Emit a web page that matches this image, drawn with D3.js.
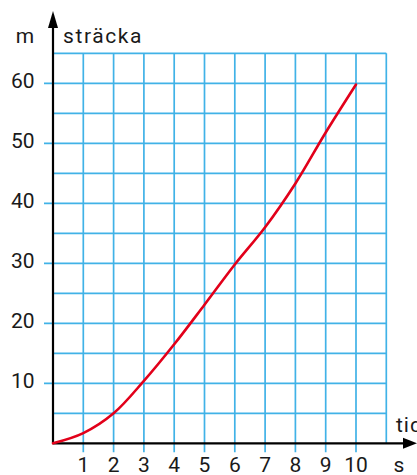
<!DOCTYPE html>
<html>
<head>
<meta charset="utf-8">
<script src="https://cdn.jsdelivr.net/npm/d3@7"></script>
<style>
  html, body { margin: 0; padding: 0; background: #fff; }
  svg { display: block; }
  text { font-family: Roboto, "DejaVu Sans", sans-serif; fill: #1a1a1a; }
</style>
</head>
<body>
<svg id="chart" width="417" height="475"></svg>
<script>
// Data
const times = [0, 1, 2, 3, 4, 5, 6, 7, 8, 9, 10];
const distances = [0, 1.7, 5, 10.4, 16.5, 23.1, 29.8, 36.0, 43.3, 51.8, 59.8];
const xTickValues = [1, 2, 3, 4, 5, 6, 7, 8, 9, 10];
const yTickValues = [10, 20, 30, 40, 50, 60];
const yGridValues = [5, 10, 15, 20, 25, 30, 35, 40, 45, 50, 55, 60, 65];
const xGridValues = [1, 2, 3, 4, 5, 6, 7, 8, 9, 10, 11];
const yLabelUnit = "m";
const yLabelName = "sträcka";
const xLabelUnit = "s";
const xLabelName = "tid";

const svg = d3.select("#chart");
const x = d3.scaleLinear().domain([0, 11]).range([53, 386.3]);
const y = d3.scaleLinear().domain([0, 65]).range([443.3, 53.3]);

const gridColor = "#40b2e7";
const fontSize = 21;

// Horizontal grid lines
svg.append("g").selectAll("line").data(yGridValues).join("line")
  .attr("x1", d => d % 10 === 0 ? x(0) - 9 : x(0))
  .attr("x2", x(11))
  .attr("y1", d => y(d)).attr("y2", d => y(d))
  .attr("stroke", gridColor).attr("stroke-width", 1.7);

// Vertical grid lines
svg.append("g").selectAll("line").data(xGridValues).join("line")
  .attr("x1", d => x(d)).attr("x2", d => x(d))
  .attr("y1", y(65))
  .attr("y2", d => d <= 10 ? y(0) + 9 : y(0))
  .attr("stroke", gridColor).attr("stroke-width", 1.7);

// Y tick labels
svg.append("g").selectAll("text").data(yTickValues).join("text")
  .attr("x", 34.5).attr("y", d => y(d) + 4.5)
  .attr("text-anchor", "end")
  .attr("font-size", fontSize)
  .text(d => d);

// X tick labels
svg.append("g").selectAll("text").data(xTickValues).join("text")
  .attr("x", d => x(d)).attr("y", 471.5)
  .attr("text-anchor", "middle")
  .attr("font-size", fontSize)
  .text(d => d);

// Axes
svg.append("line")
  .attr("x1", x(0)).attr("x2", 405)
  .attr("y1", y(0)).attr("y2", y(0))
  .attr("stroke", "#000").attr("stroke-width", 2.2);
svg.append("path")
  .attr("d", `M${417},${y(0)} L${403},${y(0) - 5.5} L${403},${y(0) + 5.5} Z`)
  .attr("fill", "#000");
svg.append("line")
  .attr("x1", x(0)).attr("x2", x(0))
  .attr("y1", y(0)).attr("y2", 26)
  .attr("stroke", "#000").attr("stroke-width", 2.2);
svg.append("path")
  .attr("d", `M${x(0)},${11} L${x(0) - 5},${28} L${x(0) + 5},${28} Z`)
  .attr("fill", "#000");

// Axis labels
svg.append("text").attr("x", 25).attr("y", 43).attr("text-anchor", "middle")
  .attr("font-size", fontSize).text(yLabelUnit);
svg.append("text").attr("x", 63).attr("y", 43)
  .attr("font-size", fontSize).attr("letter-spacing", 1.6).text(yLabelName);
svg.append("text").attr("x", 399).attr("y", 471.5).attr("text-anchor", "middle")
  .attr("font-size", fontSize).text(xLabelUnit);
svg.append("text").attr("x", 396).attr("y", 432)
  .attr("font-size", fontSize).attr("letter-spacing", 1).text(xLabelName);

// Curve
const line = d3.line()
  .x((d, i) => x(times[i]))
  .y(d => y(d))
  .curve(d3.curveCatmullRom.alpha(0.5));
svg.append("path")
  .datum(distances)
  .attr("d", line)
  .attr("fill", "none")
  .attr("stroke", "#e2001a")
  .attr("stroke-width", 2.6)
  .attr("stroke-linecap", "round");
</script>
</body>
</html>
